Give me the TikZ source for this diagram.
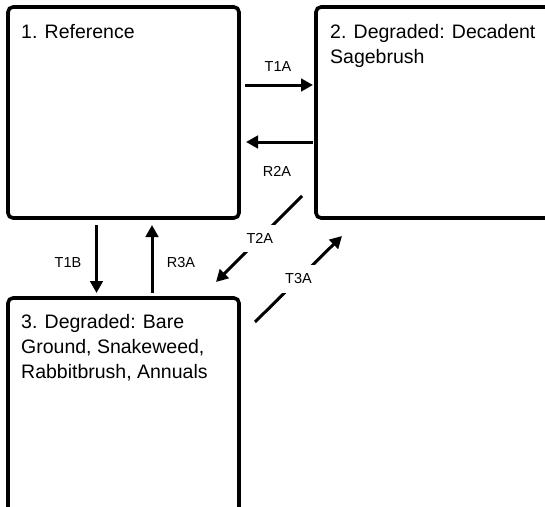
\documentclass[tikz,border=0pt]{standalone}
\usepackage{fontspec}
\setmainfont{Liberation Sans}
\usetikzlibrary{arrows.meta,calc}
\begin{document}
\begin{tikzpicture}[x=1pt,y=-1pt,
  box/.style={draw=black,line width=3.6pt,rounded corners=5pt,inner sep=0pt,outer sep=0pt},
  boxtext/.style={anchor=north west,inner sep=0pt,align=left,font=\fontsize{19.5}{25}\selectfont},
  arr/.style={line width=3pt,-{Triangle[length=12pt,width=12.5pt]}},
  lbl/.style={font=\fontsize{14.5}{16}\selectfont,inner sep=0pt},
  lblw/.style={font=\fontsize{14.5}{16}\selectfont,fill=white,inner sep=8.5pt}]
\useasboundingbox (0,0) rectangle (545,506);
% boxes
\node[box,minimum width=231pt,minimum height=211pt] (box1) at (123.5,112.5) {};
\node[box,minimum width=284pt,minimum height=211pt] (box2) at (458,112.5) {};
\node[box,minimum width=231pt,minimum height=262pt] (box3) at (123.5,429) {};
% texts
\node[boxtext] (t1) at (21,24) {1. Reference};
\node[boxtext] (t2) at (330,24) {2. Degraded: Decadent\\Sagebrush};
\node[boxtext] (t3) at (21,314) {3. Degraded: Bare\\Ground, Snakeweed,\\Rabbitbrush, Annuals};
% horizontal arrows
\draw[arr] ($(box1.east)+(6,-27.5)$) -- ($(box2.west)+(-3,-27.5)$);
\draw[arr] ($(box2.west)+(-3,29.5)$) -- ($(box1.east)+(7,29.5)$);
\node[lbl] (l1) at (278,67) {T1A};
\node[lbl] (l2) at (277,171) {R2A};
% vertical arrows
\draw[arr] ($(box1.south)+(-27,7)$) -- ($(box3.north)+(-27,-5)$);
\draw[arr] ($(box3.north)+(28.5,-5)$) -- ($(box1.south)+(28.5,7)$);
\node[lbl] (l3) at (68,263) {T1B};
\node[lbl] (l4) at (181,263) {R3A};
% diagonal arrows
\draw[arr] ($(box2.south west)+(-14,-22)$) -- node[lblw,pos=0.49] (l5) {T2A} ($(box3.north east)+(-23,-16)$);
\draw[arr] ($(box3.north east)+(16,24)$) -- node[lblw,pos=0.5] (l6) {T3A} ($(box2.south west)+(26,18)$);
\end{tikzpicture}
\end{document}
